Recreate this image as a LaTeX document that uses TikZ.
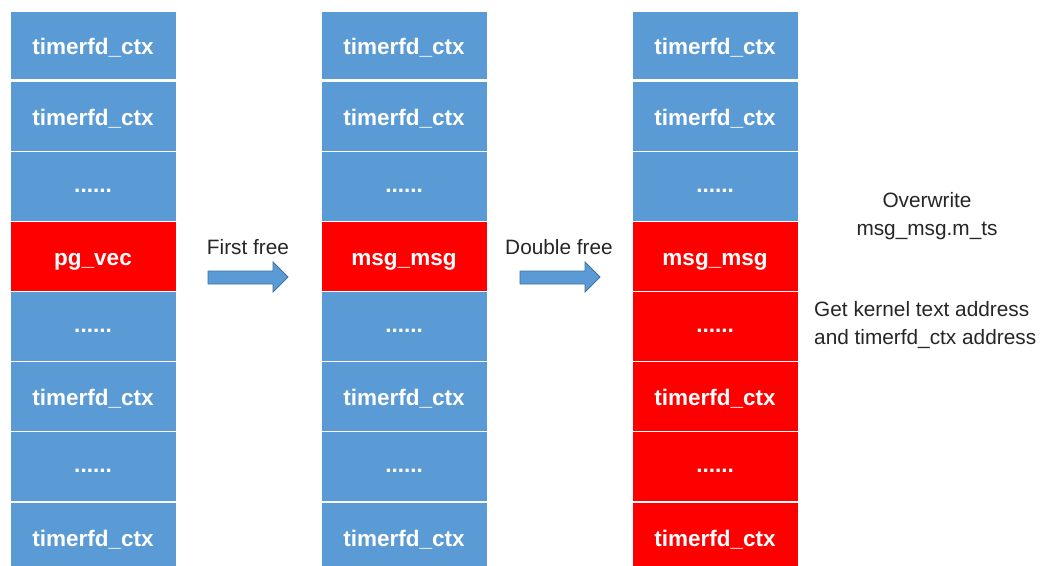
\documentclass[tikz,border=0pt]{standalone}
\usepackage{fontspec}
\setmainfont{Liberation Sans}
\definecolor{cellblue}{HTML}{5B9BD5}
\definecolor{cellred}{HTML}{FF0000}
\definecolor{arrowedge}{HTML}{41719C}
\definecolor{txt}{HTML}{262626}
\begin{document}
\begin{tikzpicture}[x=1pt,y=-1pt,
  cell/.style={draw=white,line width=1pt,fill=cellblue,minimum width=166pt,minimum height=70pt,inner sep=0pt,
    text height=18pt,text depth=0pt,
    text=white,font=\fontsize{22.5}{26}\selectfont\bfseries},
  hot/.style={cell,fill=cellred},
  dots/.style={text height=12pt},
  first/.style={minimum height=68pt},
  lbl/.style={text=txt,font=\fontsize{20.8}{28}\selectfont,inner sep=0pt},
  blockarrow/.style={fill=cellblue,draw=arrowedge,line width=0.8pt,line join=miter}]
\useasboundingbox (0,0) rectangle (1051,565);
\fill[white] (0,0) rectangle (1051,565);
\clip (0,0) rectangle (1051,565);
% column 1
\node[cell,first] (a0) at (93,45) {timerfd\_ctx};
\node[cell] (a1) at (93,116) {timerfd\_ctx};
\node[cell,dots] (a2) at (93,186) {......};
\node[hot]  (a3) at (93,256) {pg\_vec};
\node[cell,dots] (a4) at (93,326) {......};
\node[cell] (a5) at (93,396) {timerfd\_ctx};
\node[cell,dots] (a6) at (93,466) {......};
\node[cell] (a7) at (93,537) {timerfd\_ctx};
% column 2
\node[cell,first] (b0) at (404,45) {timerfd\_ctx};
\node[cell] (b1) at (404,116) {timerfd\_ctx};
\node[cell,dots] (b2) at (404,186) {......};
\node[hot]  (b3) at (404,256) {msg\_msg};
\node[cell,dots] (b4) at (404,326) {......};
\node[cell] (b5) at (404,396) {timerfd\_ctx};
\node[cell,dots] (b6) at (404,466) {......};
\node[cell] (b7) at (404,537) {timerfd\_ctx};
% column 3
\node[cell,first] (c0) at (715,45) {timerfd\_ctx};
\node[cell] (c1) at (715,116) {timerfd\_ctx};
\node[cell,dots] (c2) at (715,186) {......};
\node[hot]  (c3) at (715,256) {msg\_msg};
\node[hot,dots]  (c4) at (715,326) {......};
\node[hot]  (c5) at (715,396) {timerfd\_ctx};
\node[hot,dots]  (c6) at (715,466) {......};
\node[hot]  (c7) at (715,537) {timerfd\_ctx};
% arrows
\draw[blockarrow] (208,271) -- (273,271) -- (273,262) -- (288,277) -- (273,292) -- (273,284) -- (208,284) -- cycle;
\draw[blockarrow] (520,271) -- (585,271) -- (585,262) -- (600,277) -- (585,292) -- (585,284) -- (520,284) -- cycle;
\node[lbl] (l1) at (248,247) {First free};
\node[lbl] (l2) at (559,247) {Double free};
% notes
\node[lbl,align=center] (n1) at (927,216) {Overwrite\\msg\_msg.m\_ts};
\node[lbl,align=left,anchor=west] (n2) at (814,325) {Get kernel text address\\and timerfd\_ctx address};
\end{tikzpicture}
\end{document}
